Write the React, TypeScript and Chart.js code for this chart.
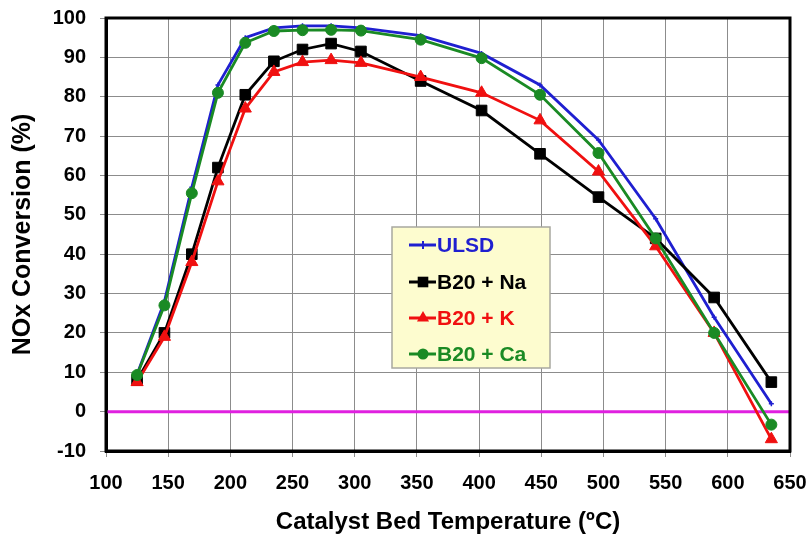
import React, { useEffect, useRef } from "react";
import { Chart, registerables } from "chart.js";

Chart.register(...registerables);

const temps = [125, 147, 169, 190, 212, 235, 258, 281, 305, 353, 402, 449, 496, 542, 589, 635];
const ulsd = [9.5, 28, 57, 83, 95, 97.5, 98, 98, 97.5, 95.5, 91, 83, 69, 49, 24, 2];
const na = [8, 20, 40, 62, 80.5, 89, 92, 93.5, 91.5, 84, 76.5, 65.5, 54.5, 44, 29, 7.5];
const kk = [7.5, 19, 38, 58.5, 77, 86.3, 88.8, 89.3, 88.6, 85, 81, 74, 61, 42, 20, -7];
const ca = [9.3, 27, 55.5, 81, 93.7, 96.7, 96.9, 97, 96.8, 94.5, 89.8, 80.5, 65.7, 44, 20, -3.3];

const seriesNames = ["ULSD", "B20 + Na", "B20 + K", "B20 + Ca"];
const seriesColors = ["#1f1fd0", "#000000", "#f01010", "#1a8a24"];
const seriesStyles = ["cross", "rect", "triangle", "circle"];
const seriesRadius = [2.5, 7.5, 7, 5.5];
const legendRadius = [4, 7.5, 7, 5.5];
const seriesValues = [ulsd, na, kk, ca];
const seriesOrder = [3, 2, 1, 0];

const FONT = "'Liberation Sans', Arial, sans-serif";

function pts(vals: number[]) {
  return vals.map((v, i) => ({ x: temps[i], y: v }));
}

function drawMarker(ctx: CanvasRenderingContext2D, style: string, x: number, y: number, r: number, color: string) {
  ctx.save();
  ctx.fillStyle = color;
  ctx.strokeStyle = color;
  ctx.lineWidth = 2;
  ctx.beginPath();
  if (style === "rect") {
    const s = r * Math.SQRT1_2;
    ctx.rect(x - s, y - s, 2 * s, 2 * s);
    ctx.fill();
  } else if (style === "circle") {
    ctx.arc(x, y, r, 0, Math.PI * 2);
    ctx.fill();
  } else if (style === "triangle") {
    ctx.moveTo(x, y - r);
    ctx.lineTo(x + r * 0.866, y + r * 0.5);
    ctx.lineTo(x - r * 0.866, y + r * 0.5);
    ctx.closePath();
    ctx.fill();
  } else {
    ctx.moveTo(x, y - r);
    ctx.lineTo(x, y + r);
    ctx.moveTo(x - r, y);
    ctx.lineTo(x + r, y);
    ctx.stroke();
  }
  ctx.restore();
}

const zeroLinePlugin = {
  id: "zeroLine",
  beforeDatasetsDraw(chart: any) {
    const { ctx, chartArea, scales } = chart;
    const y = scales.y.getPixelForValue(0);
    ctx.save();
    ctx.strokeStyle = "#e020e0";
    ctx.lineWidth = 3;
    ctx.beginPath();
    ctx.moveTo(chartArea.left, y);
    ctx.lineTo(chartArea.right, y);
    ctx.stroke();
    ctx.restore();
  },
};

const frameBorderPlugin = {
  id: "frameBorder",
  afterDraw(chart: any) {
    const { ctx, chartArea } = chart;
    ctx.save();
    ctx.strokeStyle = "#000";
    ctx.lineWidth = 3;
    ctx.strokeRect(chartArea.left, chartArea.top, chartArea.right - chartArea.left, chartArea.bottom - chartArea.top);
    ctx.restore();
  },
};

const boxLegendPlugin = {
  id: "boxLegend",
  afterDraw(chart: any) {
    const { ctx } = chart;
    const bx = 392, by = 227, bw = 158, bh = 141;
    ctx.save();
    ctx.fillStyle = "#fdfccf";
    ctx.strokeStyle = "#a8a8a0";
    ctx.lineWidth = 1.5;
    ctx.fillRect(bx, by, bw, bh);
    ctx.strokeRect(bx, by, bw, bh);
    const rows = [245, 282, 318, 354];
    ctx.font = `bold 21px ${FONT}`;
    ctx.textBaseline = "middle";
    ctx.textAlign = "left";
    seriesNames.forEach((name, i) => {
      const y = rows[i];
      const c = seriesColors[i];
      ctx.strokeStyle = c;
      ctx.lineWidth = 3;
      ctx.beginPath();
      ctx.moveTo(409, y);
      ctx.lineTo(436, y);
      ctx.stroke();
      drawMarker(ctx, seriesStyles[i], 423, y, legendRadius[i], c);
      ctx.fillStyle = c;
      ctx.fillText(name, 437, y + 1);
    });
    ctx.restore();
  },
};

function noPad(s: any) {
  s.paddingTop = 0;
  s.paddingBottom = 0;
  s.paddingLeft = 0;
  s.paddingRight = 0;
}

export default function App() {
  const ref = useRef<HTMLCanvasElement>(null);
  useEffect(() => {
    if (!ref.current) return;
    const datasets: any[] = seriesNames.map((name, i) => ({
      label: name,
      data: pts(seriesValues[i]),
      borderColor: seriesColors[i],
      backgroundColor: seriesColors[i],
      borderWidth: 2.8,
      pointStyle: seriesStyles[i],
      pointRadius: seriesRadius[i],
      pointBorderWidth: seriesStyles[i] === "cross" ? 1.5 : 1,
      pointBackgroundColor: seriesColors[i],
      pointBorderColor: seriesColors[i],
      order: seriesOrder[i],
      tension: 0,
    }));
    const chart = new Chart(ref.current, {
      type: "line",
      data: { datasets },
      plugins: [zeroLinePlugin, frameBorderPlugin, boxLegendPlugin],
      options: {
        animation: false,
        responsive: false,
        layout: { autoPadding: false, padding: { top: 18, right: 19, left: 0, bottom: 0 } },
        plugins: { legend: { display: false }, tooltip: { enabled: false } },
        scales: {
          x: {
            type: "linear",
            min: 100,
            max: 650,
            ticks: { stepSize: 50, color: "#000", font: { family: FONT, size: 20, weight: "bold" }, padding: 14 },
            grid: { color: "#8c8c8c", lineWidth: 1, tickLength: 6, tickColor: "#8c8c8c" },
            border: { color: "#000", width: 3 },
            title: {
              display: true,
              text: "Catalyst Bed Temperature (ºC)",
              color: "#000",
              font: { family: FONT, size: 24, weight: "bold" },
              padding: { top: 0, bottom: 3 },
            },
            afterFit: (s: any) => { s.height = 89; noPad(s); },
          },
          y: {
            min: -10,
            max: 100,
            ticks: { stepSize: 10, color: "#000", font: { family: FONT, size: 20, weight: "bold" }, padding: 14 },
            grid: { color: "#8c8c8c", lineWidth: 1, tickLength: 6, tickColor: "#8c8c8c" },
            border: { color: "#000", width: 3 },
            title: {
              display: true,
              text: "NOx Conversion (%)",
              color: "#000",
              font: { family: FONT, size: 25, weight: "bold" },
              padding: { top: 8, bottom: 0 },
            },
            afterFit: (s: any) => { s.width = 106; noPad(s); },
          },
        },
      } as any,
    });
    return () => chart.destroy();
  }, []);
  return (
    <div style={{ position: "absolute", left: 0, top: 0, width: 809, height: 540, background: "#fff" }}>
      <canvas ref={ref} width={809} height={540} style={{ width: 809, height: 540 }} />
    </div>
  );
}
